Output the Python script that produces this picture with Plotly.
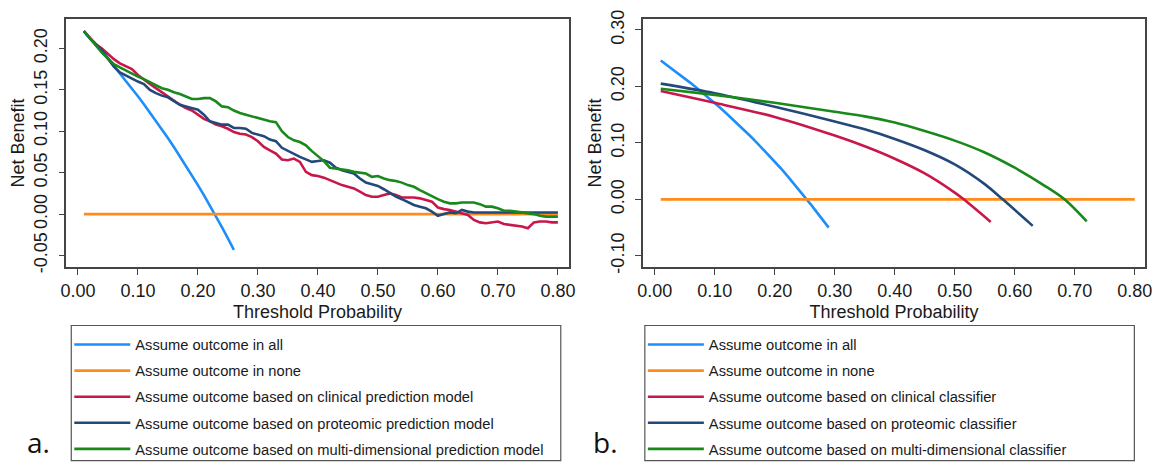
import plotly.graph_objects as go

# ---------------- data ----------------
thr_a = [round(0.01 * i, 2) for i in range(1, 81)]
thr_all_a = [round(0.01 * i, 2) for i in range(1, 27)]
nb_all_a = [0.2202, 0.2122, 0.2041, 0.1958, 0.1874, 0.1787, 0.1699, 0.1609, 0.1516, 0.1422,
            0.1326, 0.1227, 0.1126, 0.1023, 0.0918, 0.0810, 0.0699, 0.0585, 0.0469, 0.0350,
            0.0228, 0.0103, -0.0026, -0.0158, -0.0293, -0.0432]
thr_none_a = [0.01, 0.80]
nb_none_a = [0.0, 0.0]
nb_clin_a = [0.221, 0.213, 0.205, 0.200, 0.193, 0.187, 0.182, 0.178, 0.175, 0.168,
             0.162, 0.157, 0.152, 0.147, 0.142, 0.136, 0.132, 0.128, 0.125, 0.120,
             0.115, 0.112, 0.108, 0.106, 0.103, 0.099, 0.097, 0.096, 0.093, 0.088,
             0.081, 0.077, 0.073, 0.066, 0.065, 0.067, 0.063, 0.051, 0.047, 0.046,
             0.044, 0.041, 0.038, 0.035, 0.033, 0.031, 0.027, 0.023, 0.021, 0.021,
             0.023, 0.025, 0.023, 0.020, 0.020, 0.020, 0.019, 0.017, 0.015, 0.008,
             0.006, 0.005, 0.003, 0.001, -0.001, -0.007, -0.010, -0.011, -0.010, -0.009,
             -0.012, -0.013, -0.014, -0.015, -0.017, -0.010, -0.009, -0.009, -0.010, -0.010]
nb_prot_a = [0.221, 0.212, 0.205, 0.198, 0.188, 0.178, 0.171, 0.167, 0.164, 0.160,
             0.157, 0.150, 0.146, 0.143, 0.141, 0.137, 0.132, 0.130, 0.128, 0.126,
             0.120, 0.112, 0.110, 0.108, 0.108, 0.104, 0.104, 0.103, 0.098, 0.096,
             0.094, 0.090, 0.088, 0.080, 0.076, 0.072, 0.069, 0.066, 0.063, 0.064,
             0.065, 0.062, 0.056, 0.053, 0.051, 0.049, 0.043, 0.038, 0.036, 0.034,
             0.030, 0.025, 0.021, 0.018, 0.014, 0.011, 0.009, 0.007, 0.003, -0.002,
             0.000, 0.002, 0.001, 0.005, 0.003, 0.002, 0.002, 0.002, 0.002, 0.002,
             0.002, 0.002, 0.002, 0.002, 0.002, 0.002, 0.002, 0.002, 0.002, 0.002]
nb_multi_a = [0.221, 0.212, 0.203, 0.195, 0.188, 0.181, 0.177, 0.173, 0.170, 0.166,
              0.163, 0.159, 0.155, 0.152, 0.150, 0.147, 0.145, 0.142, 0.139, 0.139,
              0.140, 0.140, 0.136, 0.130, 0.129, 0.125, 0.122, 0.120, 0.118, 0.116,
              0.114, 0.112, 0.111, 0.100, 0.093, 0.089, 0.087, 0.083, 0.076, 0.070,
              0.064, 0.056, 0.055, 0.054, 0.053, 0.051, 0.050, 0.049, 0.045, 0.046,
              0.043, 0.041, 0.040, 0.038, 0.035, 0.033, 0.029, 0.025, 0.022, 0.018,
              0.015, 0.013, 0.013, 0.014, 0.014, 0.014, 0.012, 0.009, 0.009, 0.007,
              0.004, 0.004, 0.003, 0.002, 0.001, 0.000, -0.002, -0.003, -0.003, -0.003]

thr_all_b = [round(0.01 * i, 2) for i in range(1, 30)]
nb_all_b = [0.2460, 0.2383, 0.2304, 0.2224, 0.2142, 0.2059, 0.1973, 0.1886, 0.1797, 0.1706,
            0.1612, 0.1517, 0.1420, 0.1320, 0.1218, 0.1113, 0.1006, 0.0896, 0.0784, 0.0669,
            0.0551, 0.0430, 0.0305, 0.0178, 0.0047, -0.0088, -0.0226, -0.0368, -0.0500]
thr_none_b = [0.01, 0.80]
nb_none_b = [0.0, 0.0]
thr_clin_b = [0.01, 0.10, 0.20, 0.30, 0.35, 0.40, 0.45, 0.50, 0.515, 0.56]
nb_clin_b = [0.192, 0.171, 0.146, 0.113, 0.094, 0.072, 0.046, 0.012, 0.000, -0.040]
thr_prot_b = [0.01, 0.10, 0.20, 0.30, 0.35, 0.40, 0.45, 0.50, 0.55, 0.58, 0.63]
nb_prot_b = [0.205, 0.188, 0.164, 0.138, 0.124, 0.107, 0.087, 0.062, 0.027, 0.000, -0.047]
thr_multi_b = [0.01, 0.10, 0.20, 0.30, 0.35, 0.40, 0.45, 0.50, 0.55, 0.60, 0.65, 0.683, 0.72]
nb_multi_b = [0.196, 0.185, 0.171, 0.155, 0.147, 0.136, 0.121, 0.104, 0.083, 0.056, 0.024, 0.000, -0.039]

names_a = ["Assume outcome in all", "Assume outcome in none",
           "Assume outcome based on clinical prediction model",
           "Assume outcome based on proteomic prediction model",
           "Assume outcome based on multi-dimensional prediction model"]
names_b = ["Assume outcome in all", "Assume outcome in none",
           "Assume outcome based on clinical classifier",
           "Assume outcome based on proteomic classifier",
           "Assume outcome based on multi-dimensional classifier"]

x_tickvals = [0.0, 0.1, 0.2, 0.3, 0.4, 0.5, 0.6, 0.7, 0.8]
x_ticktext = ["0.00", "0.10", "0.20", "0.30", "0.40", "0.50", "0.60", "0.70", "0.80"]
ya_tickvals = [-0.05, 0.0, 0.05, 0.10, 0.15, 0.20]
ya_ticktext = ["-0.05", "0.00", "0.05", "0.10", "0.15", "0.20"]
yb_tickvals = [-0.10, 0.0, 0.10, 0.20, 0.30]
yb_ticktext = ["-0.10", "0.00", "0.10", "0.20", "0.30"]

colors = ["#1E8FFA", "#FF8C1A", "#C8174A", "#22497A", "#18891A"]

# ---------------- figure ----------------
W, H = 1172, 468
FONT = "Liberation Sans, Arial, Helvetica, sans-serif"
fig = go.Figure()

series_a = [(thr_all_a, nb_all_a), (thr_none_a, nb_none_a), (thr_a, nb_clin_a),
            (thr_a, nb_prot_a), (thr_a, nb_multi_a)]
series_b = [(thr_all_b, nb_all_b), (thr_none_b, nb_none_b), (thr_clin_b, nb_clin_b),
            (thr_prot_b, nb_prot_b), (thr_multi_b, nb_multi_b)]

for i, (xs, ys) in enumerate(series_a):
    fig.add_trace(go.Scatter(x=xs, y=ys, mode="lines", name=names_a[i],
                             line=dict(color=colors[i], width=2.6),
                             xaxis="x", yaxis="y", legend="legend",
                             legendgroup="a%d" % i))
for i, (xs, ys) in enumerate(series_b):
    fig.add_trace(go.Scatter(x=xs, y=ys, mode="lines", name=names_b[i],
                             line=dict(color=colors[i], width=2.6,
                                       shape="spline" if i >= 2 else "linear",
                                       smoothing=0.8),
                             xaxis="x2", yaxis="y2", legend="legend2",
                             legendgroup="b%d" % i))

def px_x(p):
    return p / W

def px_y(p):
    return 1 - p / H

axis_common = dict(showline=True, linecolor="#444444", linewidth=1.5, mirror=True,
                   ticks="outside", ticklen=6, tickwidth=1.3, tickcolor="#444444",
                   showgrid=False, zeroline=False,
                   tickfont=dict(family=FONT, size=18, color="#1a1a1a"),
                   title_font=dict(family=FONT, size=18, color="#1a1a1a"))

legend_common = dict(xanchor="left", yanchor="top", bgcolor="rgba(0,0,0,0)",
                     borderwidth=0, tracegroupgap=4, itemwidth=56,
                     font=dict(family=FONT, size=14.7, color="#1a1a1a"))

fig.update_layout(
    width=W, height=H,
    margin=dict(l=0, r=0, t=0, b=0),
    paper_bgcolor="white", plot_bgcolor="white",
    xaxis=dict(domain=[px_x(61), px_x(569)], range=[-0.0193, 0.818], anchor="y",
               tickvals=x_tickvals, ticktext=x_ticktext,
               title=dict(text="Threshold Probability", standoff=6), **axis_common),
    yaxis=dict(domain=[px_y(267), px_y(10)], range=[-0.0644, 0.2359], anchor="x",
               tickvals=ya_tickvals, ticktext=ya_ticktext, tickangle=-90,
               ticklabelstandoff=4,
               title=dict(text="Net Benefit", standoff=2), **axis_common),
    xaxis2=dict(domain=[px_x(644), px_x(1152)], range=[-0.0198, 0.8175], anchor="y2",
                tickvals=x_tickvals, ticktext=x_ticktext,
                title=dict(text="Threshold Probability", standoff=6), **axis_common),
    yaxis2=dict(domain=[px_y(267), px_y(10)], range=[-0.1206, 0.320], anchor="x2",
                tickvals=yb_tickvals, ticktext=yb_ticktext, tickangle=-90,
                ticklabelstandoff=4,
                title=dict(text="Net Benefit", standoff=2), **axis_common),
    legend=dict(x=px_x(64), y=px_y(330), **legend_common),
    legend2=dict(x=px_x(644), y=px_y(330), **legend_common),
    showlegend=True,
    shapes=[
        dict(type="rect", xref="paper", yref="paper",
             x0=px_x(66), x1=px_x(561), y0=px_y(466.5), y1=px_y(327),
             line=dict(color="#555555", width=1.2)),
        dict(type="rect", xref="paper", yref="paper",
             x0=px_x(646), x1=px_x(1141), y0=px_y(466.5), y1=px_y(327),
             line=dict(color="#555555", width=1.2)),
    ],
    annotations=[
        dict(text="a.", x=px_x(33), y=px_y(447), xref="paper", yref="paper",
             xanchor="center", yanchor="middle", showarrow=False,
             font=dict(family="Open Sans, sans-serif", size=28, color="#111111")),
        dict(text="b.", x=px_x(606), y=px_y(447), xref="paper", yref="paper",
             xanchor="center", yanchor="middle", showarrow=False,
             font=dict(family="Open Sans, sans-serif", size=28, color="#111111")),
    ],
)

fig.write_html("out.html")
